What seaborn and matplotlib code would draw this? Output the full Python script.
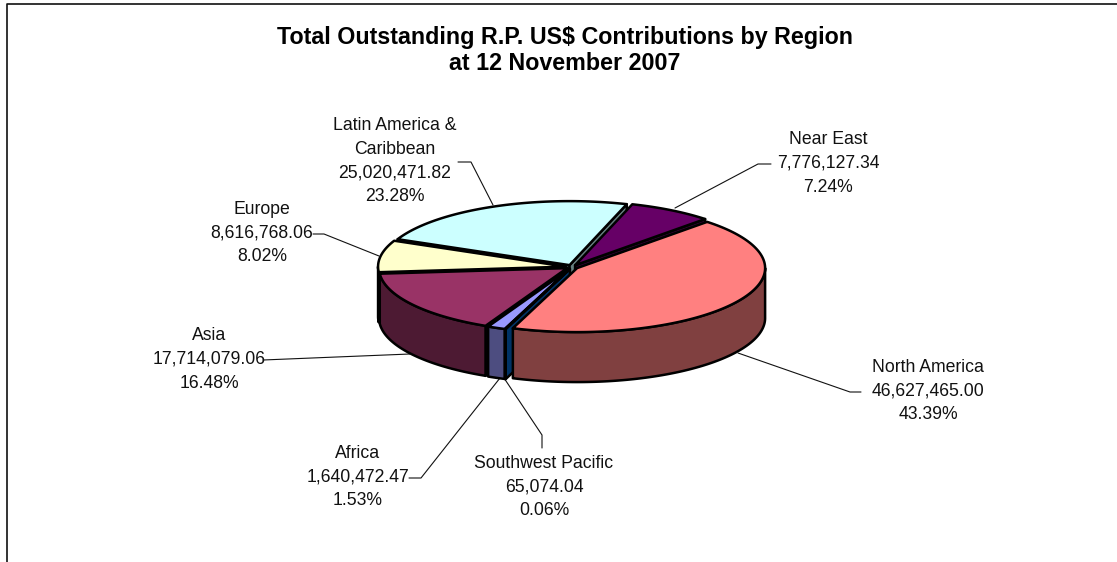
"""
Total outstanding R.P. contributions by region, tilted 3D pie
"""
import numpy as np
import pandas as pd
import matplotlib
matplotlib.use('Agg')
import matplotlib.pyplot as plt
from matplotlib.patches import Polygon
import seaborn as sns

regions = ["Africa", "Asia", "Europe", "Latin America &\nCaribbean", "Near East",
           "North America", "Southwest Pacific"]
amounts = [1640472.47, 17714079.06, 8616768.06, 25020471.82, 7776127.34,
           46627465.00, 65074.04]
amount_labels = ["1,640,472.47", "17,714,079.06", "8,616,768.06", "25,020,471.82",
                 "7,776,127.34", "46,627,465.00", "65,074.04"]
share_labels = ["1.53%", "16.48%", "8.02%", "23.28%", "7.24%", "43.39%", "0.06%"]
slice_colors = ["#9999FF", "#993366", "#FFFFCC", "#CCFFFF", "#660066", "#FF8080", "#0066CC"]

# pixel layout of the label blocks and leader lines
label_xy = [(358, 477), (209, 359.5), (262, 233), (394.5, 161), (828, 163.5), (928, 391), (544, 487)]
leaders = [
    [(409, 478), (421, 478), (500, 378)],
    [(263, 360), (410, 354)],
    [(313, 234), (324, 234), (379, 256)],
    [(458, 162), (471, 162), (493, 205)],
    [(771, 164), (758, 164), (675, 208)],
    [(861, 392), (850, 392), (738, 353)],
    [(542, 448), (542, 435), (504, 378)],
]

START_DEG = -110.2   # Africa starts here, slices run clockwise
CX, CY = 572, 267
RX, RY = 188, 64
DEPTH = 50
EXPLODE = 0.032

sns.set_theme(style="white")
plt.rcParams['font.family'] = ['Liberation Sans', 'DejaVu Sans']

df = pd.DataFrame({"region": regions, "amount": amounts, "amount_label": amount_labels,
                   "share_label": share_labels, "color": sns.color_palette(slice_colors)})
df["sweep"] = df["amount"] / df["amount"].sum() * 360
df["t0"] = START_DEG - df["sweep"].cumsum().shift(fill_value=0)
df["t1"] = df["t0"] - df["sweep"]
df["mid"] = (df["t0"] + df["t1"]) / 2

fig = plt.figure(figsize=(11.17, 5.62), dpi=100)
ax = fig.add_axes([0, 0, 1, 1])
ax.set_xlim(0, 1117)
ax.set_ylim(562, 0)
ax.axis("off")


def rim(t0, t1, ox, oy):
    t = np.radians(np.linspace(t0, t1, max(2, int(abs(t1 - t0) * 2))))
    return np.column_stack([CX + ox + RX * np.cos(t), CY + oy - RY * np.sin(t)])


def face(pts, color):
    ax.add_patch(Polygon(pts, closed=True, facecolor=color, edgecolor="black",
                         linewidth=1.8, joinstyle="round"))


def draw_slice(row):
    top = np.array(row["color"])
    side = top * 0.5
    ox = EXPLODE * RX * np.cos(np.radians(row["mid"]))
    oy = -EXPLODE * RY * np.sin(np.radians(row["mid"]))
    tip = np.array([CX + ox, CY + oy])
    down = np.array([0, DEPTH])
    # radial walls, only the ones turned to the viewer
    for t, normal in [(row["t0"], row["t0"] + 90), (row["t1"], row["t1"] - 90)]:
        if np.sin(np.radians(normal)) < 0:
            p = rim(t, t, ox, oy)[0]
            face([tip, p, p + down, tip + down], side)
    # outer rim, lower half of the ellipse only
    turns = [row["t0"], row["t1"]] + [a for a in range(-720, 1, 180) if row["t1"] < a < row["t0"]]
    turns = sorted(turns, reverse=True)
    for a, b in zip(turns[:-1], turns[1:]):
        if np.sin(np.radians((a + b) / 2)) < 0:
            upper = rim(a, b, ox, oy)
            face(np.vstack([upper, upper[::-1] + down]), side)
    face(np.vstack([tip, rim(row["t0"], row["t1"], ox, oy)]), top)


# back to front, the slice holding the front of the ellipse goes last
holds_front = ((df["t0"] + 90) % 360) < df["sweep"]
rest = df[~holds_front].assign(depth=lambda d: np.sin(np.radians(d["mid"])))
for _, row in rest.sort_values("depth", ascending=False).iterrows():
    draw_slice(row)
for _, row in df[holds_front].iterrows():
    draw_slice(row)

for line in leaders:
    xs, ys = zip(*line)
    ax.plot(xs, ys, color="#111111", lw=0.8, zorder=0.5)

for (x, y), (_, row) in zip(label_xy, df.iterrows()):
    ax.text(x, y, f'{row["region"]}\n{row["amount_label"]}\n{row["share_label"]}', ha="center",
            va="center", fontsize=12.7, color="#111111", linespacing=1.5)

ax.text(565, 50.5, "Total Outstanding R.P. US$ Contributions by Region\nat 12 November 2007",
        ha="center", va="center", fontsize=16.75, fontweight="bold", color="black", linespacing=1.22)

# chart frame, cut off by the picture on the right and at the bottom
ax.plot([7, 7, 1117], [562, 4, 4], color="#111111", lw=1.2)

fig.savefig("out.png", dpi=100, facecolor="white")
